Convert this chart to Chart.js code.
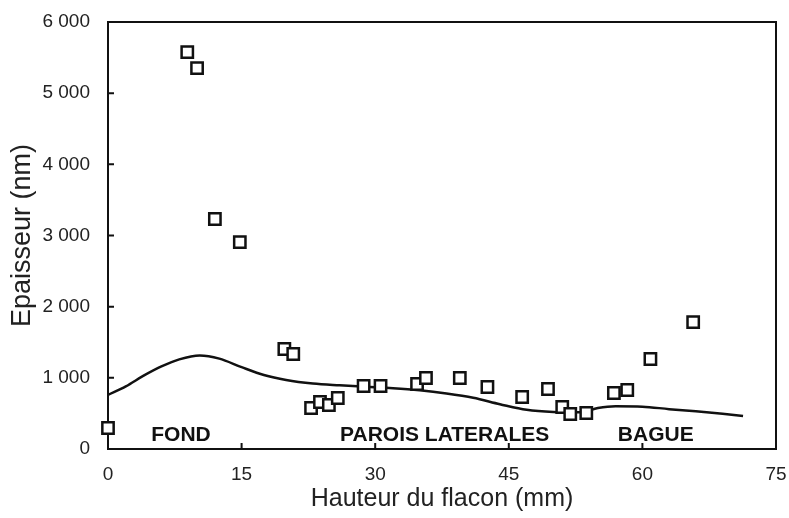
<!DOCTYPE html>
<html>
<head>
<meta charset="utf-8">
<script src="https://cdn.jsdelivr.net/npm/chart.js@4.4.0/dist/chart.umd.min.js"></script>
<style>
  html, body { margin: 0; padding: 0; background: #fff; }
  #wrap { width: 789px; height: 518px; }
</style>
</head>
<body>
<div id="wrap"><canvas id="chart"></canvas></div>
<script>
// measured points: hauteur (mm) / epaisseur (nm)
const pointX = [0, 8.9, 10.0, 12.0, 14.8, 19.8, 20.8, 22.8, 23.8, 24.8, 25.8, 28.7, 30.6,
  34.7, 35.7, 39.5, 42.6, 46.5, 49.4, 51.0, 51.9, 53.7, 56.8, 58.3, 60.9, 65.7];
const pointY = [295, 5578, 5353, 3232, 2908, 1405, 1335, 576, 660, 618, 717, 885, 885,
  913, 998, 998, 871, 731, 843, 590, 492, 506, 787, 829, 1265, 1784];

// model curve
const curveX = [0, 2, 4, 6, 8, 10.3, 12.5, 15, 17.5, 20, 23, 26, 29, 32, 35, 38, 41, 44, 47, 50, 53, 55, 57, 60, 63, 66, 69, 71.3];
const curveY = [760, 880, 1030, 1160, 1260, 1315, 1270, 1150, 1040, 970, 920, 895, 875, 855, 825, 780, 720, 630, 550, 520, 515, 575, 600, 595, 560, 530, 495, 463];

const xTicks = [0, 15, 30, 45, 60, 75];
const yTicks = [0, 1000, 2000, 3000, 4000, 5000, 6000];

const zoneLabels = ['FOND', 'PAROIS LATERALES', 'BAGUE'];
const zoneX = [8.2, 37.8, 61.5];
const zoneY = [197, 197, 197];

const fmt = v => String(v).replace(/\B(?=(\d{3})+(?!\d))/g, ' ');

const frame = {
  id: 'frame',
  beforeDatasetsDraw(chart) {
    const { ctx, chartArea: a, scales: { x, y } } = chart;
    ctx.save();
    ctx.strokeStyle = '#111';
    ctx.lineWidth = 2;
    ctx.strokeRect(a.left, a.top, a.right - a.left, a.bottom - a.top);
    ctx.beginPath();
    xTicks.forEach(v => {
      const px = x.getPixelForValue(v);
      ctx.moveTo(px, a.bottom);
      ctx.lineTo(px, a.bottom - 6);
    });
    yTicks.forEach(v => {
      const py = y.getPixelForValue(v);
      ctx.moveTo(a.left, py);
      ctx.lineTo(a.left + 6, py);
    });
    ctx.stroke();
    ctx.fillStyle = '#111';
    ctx.font = 'bold 21px "Liberation Sans", Arial, sans-serif';
    ctx.textAlign = 'center';
    ctx.textBaseline = 'middle';
    zoneLabels.forEach((t, i) => {
      ctx.fillText(t, x.getPixelForValue(zoneX[i]), y.getPixelForValue(zoneY[i]));
    });
    ctx.restore();
  }
};

new Chart(document.getElementById('chart'), {
  type: 'scatter',
  data: {
    datasets: [
      {
        data: pointX.map((v, i) => ({ x: v, y: pointY[i] })),
        pointStyle: 'rect',
        pointRadius: 8,
        pointHoverRadius: 8,
        pointBorderWidth: 2.5,
        borderColor: '#111',
        backgroundColor: '#fff',
        clip: false,
        order: 0
      },
      {
        type: 'line',
        data: curveX.map((v, i) => ({ x: v, y: curveY[i] })),
        borderColor: '#111',
        borderWidth: 2.5,
        pointRadius: 0,
        fill: false,
        cubicInterpolationMode: 'monotone',
        order: 1
      }
    ]
  },
  options: {
    responsive: true,
    maintainAspectRatio: false,
    animation: false,
    layout: { padding: { top: 22, right: 13, left: 0, bottom: 0 } },
    plugins: { legend: { display: false }, tooltip: { enabled: false } },
    scales: {
      x: {
        type: 'linear',
        min: 0, max: 75,
        afterBuildTicks: s => { s.ticks = xTicks.map(v => ({ value: v })); },
        afterFit: s => { s.height = 69; s.paddingLeft = 0; s.paddingRight = 0; },
        grid: { display: false, drawTicks: false },
        border: { display: false },
        ticks: {
          color: '#222',
          padding: 14,
          maxRotation: 0,
          font: { family: '"Liberation Sans", Arial, sans-serif', size: 19 }
        },
        title: {
          display: true,
          text: 'Hauteur du flacon (mm)',
          color: '#222',
          padding: { top: 1 },
          font: { family: '"Liberation Sans", Arial, sans-serif', size: 25 }
        }
      },
      y: {
        min: 0, max: 6000,
        afterBuildTicks: s => { s.ticks = yTicks.map(v => ({ value: v })); },
        afterFit: s => { s.width = 108; s.paddingTop = 0; s.paddingBottom = 0; },
        grid: { display: false, drawTicks: false },
        border: { display: false },
        ticks: {
          color: '#222',
          padding: 18,
          callback: v => fmt(v),
          font: { family: '"Liberation Sans", Arial, sans-serif', size: 19 }
        },
        title: {
          display: true,
          text: 'Epaisseur (nm)',
          color: '#222',
          padding: { top: 6, bottom: 0 },
          font: { family: '"Liberation Sans", Arial, sans-serif', size: 27 }
        }
      }
    }
  },
  plugins: [frame]
});
</script>
</body>
</html>
